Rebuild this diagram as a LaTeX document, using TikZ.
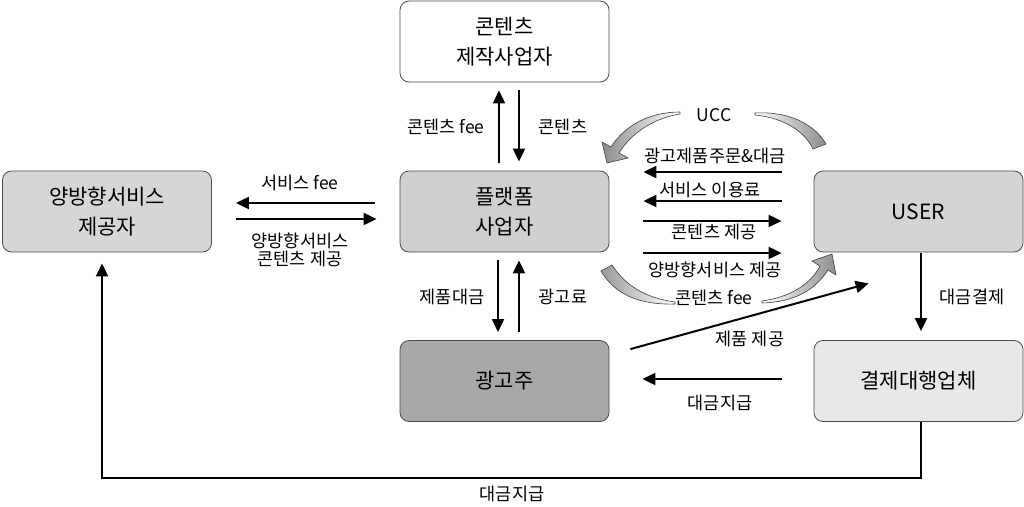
\documentclass[tikz,border=0pt]{standalone}
\usepackage{fontspec}
\setmainfont{Noto Sans CJK KR}
\usetikzlibrary{arrows.meta,calc}
\begin{document}
\begin{tikzpicture}[x=1pt,y=-1pt,
  box/.style={draw=black!70,line width=0.8pt,rounded corners=9pt,minimum width=209pt,minimum height=81pt,align=center,font=\fontsize{21}{30}\selectfont,inner sep=0pt},
  lbl/.style={font=\fontsize{17.5}{18}\selectfont,align=center,inner sep=0pt},
  arr/.style={line width=2pt,-{Triangle[length=13pt,width=12pt]}},
  fat/.style={draw=black!75,line width=0.6pt}
]
\useasboundingbox (0,0) rectangle (1024,506);
% boxes
\node[box,fill=white] (top) at (504.5,41.5) {콘텐츠\\제작사업자};
\node[box,fill=black!16] (svc) at (107,211.5) {양방향서비스\\제공자};
\node[box,fill=black!19] (plat) at (504.5,211.5) {플랫폼\\사업자};
\node[box,fill=black!17] (user) at (918.5,211.5) {USER};
\node[box,fill=black!34] (ad) at (504.5,381) {광고주};
\node[box,fill=black!9] (pay) at (918.5,381) {결제대행업체};

% top <-> platform
\draw[arr,shorten <=8pt,shorten >=8pt] ([xshift=-5.5pt]plat.north) -- ([xshift=-5.5pt]top.south);
\draw[arr,shorten <=8pt,shorten >=9pt] ([xshift=14.5pt]top.south) -- ([xshift=14.5pt]plat.north);
\node[lbl] (l1) at (446,127) {콘텐츠 fee};
\node[lbl] (l2) at (563,127) {콘텐츠};

% platform <-> service provider
\draw[arr,shorten <=25pt,shorten >=24pt] ([yshift=8.5pt]plat.west) -- ([yshift=8.5pt]svc.east);
\draw[arr,shorten <=24pt,shorten >=23pt] ([yshift=-7.5pt]svc.east) -- ([yshift=-7.5pt]plat.west);
\node[lbl] (l3) at (300,183) {서비스 fee};
\node[lbl] (l4) at (300,250) {양방향서비스\\콘텐츠 제공};

% platform <-> advertiser
\draw[arr,shorten <=8pt,shorten >=8pt] ([xshift=-6.5pt]plat.south) -- ([xshift=-6.5pt]ad.north);
\draw[arr,shorten <=8pt,shorten >=8pt] ([xshift=14.5pt]ad.north) -- ([xshift=14.5pt]plat.south);
\node[lbl] (l5) at (452,297) {제품대금};
\node[lbl] (l6) at (563,297) {광고료};

% platform <-> user
\draw[arr,shorten <=32pt,shorten >=34pt] ([yshift=39.5pt]user.west) -- ([yshift=39.5pt]plat.east);
\draw[arr,shorten <=32pt,shorten >=34pt] ([yshift=10.5pt]user.west) -- ([yshift=10.5pt]plat.east);
\draw[arr,shorten <=34pt,shorten >=32pt] ([yshift=-9.5pt]plat.east) -- ([yshift=-9.5pt]user.west);
\draw[arr,shorten <=34pt,shorten >=32pt] ([yshift=-41.5pt]plat.east) -- ([yshift=-41.5pt]user.west);
\node[lbl] (l7) at (715,156) {광고제품주문\&대금};
\node[lbl] (l8) at (710,190) {서비스 이용료};
\node[lbl] (l9) at (714,232) {콘텐츠 제공};
\node[lbl] (l10) at (715,270) {양방향서비스 제공};
\node[lbl] (l11) at (714,298) {콘텐츠 fee};
\node[lbl] (l12) at (714,115) {UCC};

% curved fat arrows
\path[fat,left color=black!45,right color=white]
  (611,147) .. controls (625,125) and (650,112) .. (680,112)
  -- (680,114) .. controls (655,118) and (632,132) .. (619,153)
  -- (628,158) -- (607,163) -- (602,142) -- cycle;
\path[fat,left color=white,right color=black!45]
  (755,113) .. controls (790,111) and (815,125) .. (826,144)
  -- (813,149) .. controls (805,132) and (785,118) .. (755,115) -- cycle;
\path[fat,left color=black!40,right color=white]
  (601,271) .. controls (615,295) and (640,305) .. (675,304)
  -- (675,302) .. controls (645,298) and (625,285) .. (612,265) -- cycle;
\path[fat,left color=white,right color=black!45]
  (762,303) .. controls (795,302) and (815,290) .. (828,270)
  -- (836,275) -- (832,254) -- (812,261)
  -- (820,266) .. controls (810,285) and (790,297) .. (762,301) -- cycle;

% advertiser -> user
\draw[arr] ([xshift=21pt,yshift=-9pt]ad.north east) -- ([xshift=55pt,yshift=-31pt]user.south west);
\node[lbl] (l13) at (750,339) {제품 제공};

% user -> payment
\draw[arr,shorten <=1pt,shorten >=9pt] ([xshift=2.5pt]user.south) -- ([xshift=2.5pt]pay.north);
\node[lbl] (l14) at (972,297) {대금결제};

% payment -> advertiser
\draw[arr,shorten <=32pt,shorten >=33pt] ([yshift=2pt]pay.west) -- ([yshift=2pt]ad.east);
\node[lbl] (l15) at (720,403) {대금지급};

% payment -> service provider
\draw[line width=2pt,-{Triangle[length=13pt,width=12pt]},shorten >=11pt] ([xshift=2.5pt]pay.south) -- ++(0,56) -| ([xshift=-5pt]svc.south);
\node[lbl] (l16) at (512,494) {대금지급};
\end{tikzpicture}
\end{document}
